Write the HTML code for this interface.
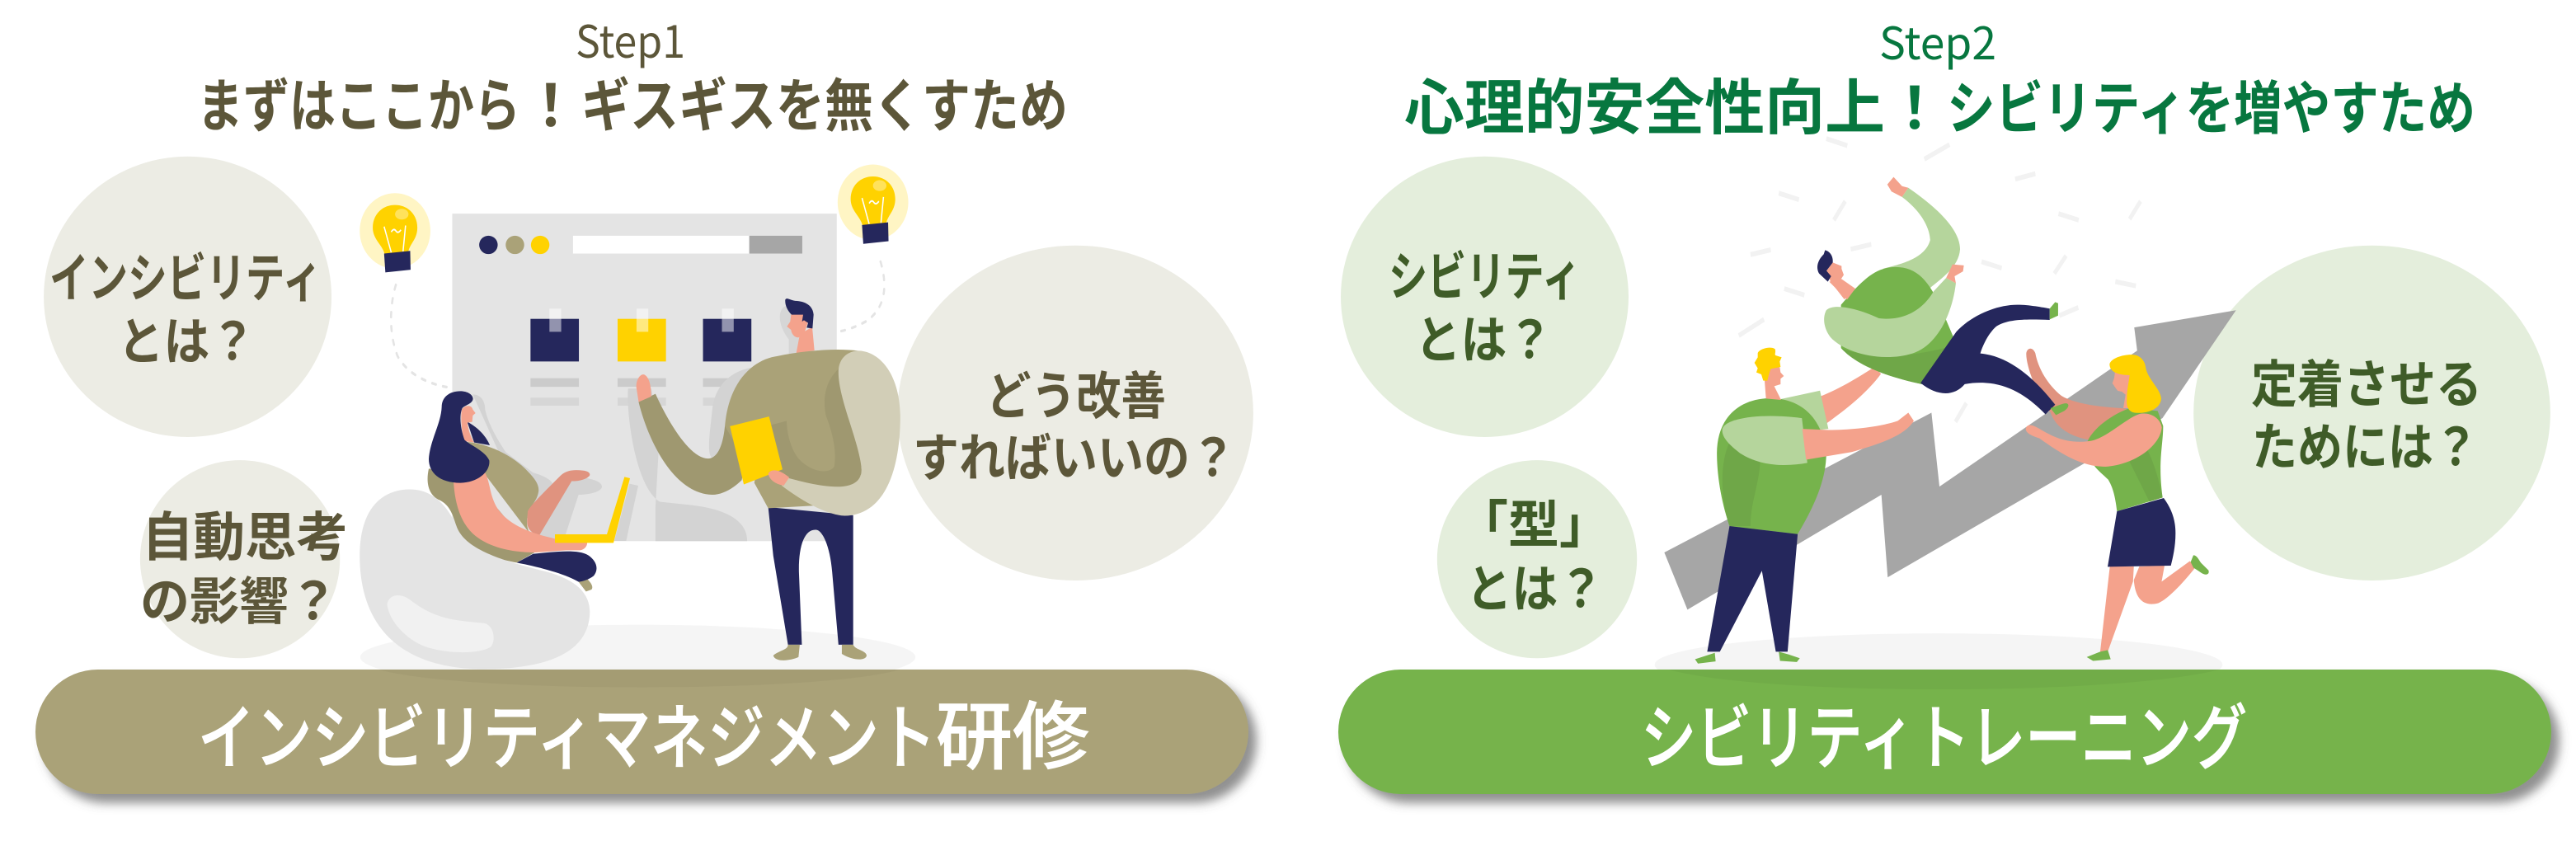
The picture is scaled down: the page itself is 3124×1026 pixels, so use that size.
<!DOCTYPE html>
<html lang="ja"><head><meta charset="utf-8"><title>Steps</title>
<style>html,body{margin:0;padding:0;background:#fff;width:3124px;height:1026px;overflow:hidden}svg{display:block}</style></head>
<body>
<svg xmlns="http://www.w3.org/2000/svg" width="3124" height="1026" viewBox="0 0 3124 1026" font-family="'Liberation Sans','Noto Sans CJK JP',sans-serif">
<defs>
<filter id="sh" x="-5%" y="-20%" width="110%" height="150%"><feDropShadow dx="10" dy="11" stdDeviation="6" flood-color="#555" flood-opacity=".65"/></filter>
<g id="bulb">
<ellipse cx="939" cy="428" rx="84" ry="70" fill="#fff5c4"/>
<path d="M939 380C970 380 992 398 992 422C992 445 972 452 970 470L915 474C912 455 886 445 886 422C886 398 908 380 939 380Z" fill="#ffd200"/>
<ellipse cx="955" cy="397" rx="16" ry="10" fill="#ffe25c"/>
<path d="M913 420L930 468M964 418L958 466M930 430Q936 422 941 428T953 426" stroke="#fff" stroke-width="3" fill="none"/>
<path d="M913 470L975 465L976 500L916 505Z" fill="#25275c"/>
</g>
</defs>
<rect width="3124" height="1026" fill="#fff"/>

<!-- LEFT illustration, zoom coords -->
<g transform="scale(.5102,.6543)">
<ellipse cx="446" cy="550" rx="342" ry="260" fill="#ecece4"/>
<ellipse cx="570.5" cy="1036.5" rx="237.5" ry="183.5" fill="#ecece4"/>
<ellipse cx="2556" cy="765.5" rx="423" ry="310.5" fill="#ecece4"/>
<ellipse cx="1516" cy="1218" rx="660" ry="60" fill="#f5f5f5"/>
<rect x="1075" y="396" width="914" height="607" fill="#e4e4e4"/>
<ellipse cx="1161" cy="454" rx="22" ry="17" fill="#25275c"/>
<ellipse cx="1224" cy="454" rx="22" ry="17" fill="#aaa278"/>
<ellipse cx="1284" cy="454" rx="22" ry="17" fill="#ffd200"/>
<rect x="1362" y="437" width="419" height="33" fill="#fff"/>
<rect x="1781" y="437" width="126" height="33" fill="#a6a6a6"/>
<rect x="1261" y="591" width="115" height="79" fill="#25275c"/><rect x="1306" y="572" width="28" height="43" fill="#fff" fill-opacity=".5"/>
<rect x="1468" y="591" width="115" height="79" fill="#ffd200"/><rect x="1513" y="572" width="28" height="43" fill="#fff" fill-opacity=".5"/>
<rect x="1671" y="591" width="115" height="79" fill="#25275c"/><rect x="1716" y="572" width="28" height="43" fill="#fff" fill-opacity=".5"/>
<rect x="1261" y="701" width="115" height="16" fill="#cbcbcb"/><rect x="1261" y="737" width="115" height="15" fill="#d6d6d6"/>
<rect x="1468" y="701" width="115" height="16" fill="#cbcbcb"/><rect x="1468" y="737" width="115" height="15" fill="#d6d6d6"/>
<rect x="1671" y="701" width="115" height="16" fill="#cbcbcb"/><rect x="1671" y="737" width="115" height="15" fill="#d6d6d6"/>
<use href="#bulb"/>
<use href="#bulb" transform="translate(1136,-53)"/>
<path d="M941 528C925 570 925 620 945 660C970 695 1020 712 1066 718" fill="none" stroke="#e4e4e4" stroke-width="5" stroke-dasharray="9 17" stroke-linecap="round"/>
<path d="M2093 485C2110 530 2105 570 2060 595C2030 608 2000 617 1958 617" fill="none" stroke="#e4e4e4" stroke-width="5" stroke-dasharray="9 17" stroke-linecap="round"/>
</g>
<!-- man's head, zoom coords -->
<g transform="translate(900,340) scale(.33333)">
<path d="M155 95C130 110 128 160 170 215L170 268L210 268L200 100Z" fill="#d6d6d6"/>
<path d="M210 195L255 170L263 255L197 265Z" fill="#f4a28c"/>
<path d="M178 125L235 120L240 150L232 175L225 195L205 208C190 208 180 195 178 180L163 168L175 150Z" fill="#f4a28c"/>
<path d="M157 70C165 60 175 75 200 75C235 78 258 95 260 125L256 175L235 172L240 155L225 145L218 150L222 125L180 125C165 110 155 90 157 70Z" fill="#25275c"/>
</g>
<g transform="scale(.5102,.6543)">
<!-- man (Q2 coords) -->
<g transform="translate(1568,0)">
<path d="M125 760C130 715 170 685 230 680L260 800L130 850C110 850 118 810 125 760Z" fill="#d3d3d3"/>
<path d="M-75 720C-80 760 -60 900 0 930L60 935C130 940 208 955 208 1003L-10 1003L-10 940L0 800L-20 720Z" fill="#d3d3d3"/>
<path d="M258 940L460 955L460 1195L425 1195L410 1060C405 1010 385 980 370 982C345 982 330 1010 331 1060L338 1195L305 1195L270 1030Z" fill="#25275c"/>
<path d="M270 1215C285 1205 305 1205 305 1195L333 1195L330 1218C310 1225 275 1228 270 1215Z" fill="#aaa278"/>
<path d="M433 1195L460 1195C465 1205 490 1205 492 1215C490 1225 460 1225 433 1212Z" fill="#aaa278"/>
<path d="M225 895L258 942L370 937L292 900L240 830Z" fill="#aaa278"/>
<path d="M155 790C150 830 135 850 115 850C75 850 25 790 -10 730L-50 745C-30 810 30 915 125 917C150 917 175 905 195 890L220 790Z" fill="#9f9870"/>
<path d="M-50 745L-55 720C-58 705 -45 690 -35 695C-25 700 -20 715 -20 735Z" fill="#f4a28c"/>
<path d="M155 790C165 700 230 665 280 660C340 650 420 645 470 650L480 880L290 900L240 900Z" fill="#aaa278"/>
<path d="M430 680C400 700 385 730 395 770C415 810 420 840 415 865C400 880 360 875 330 850C310 830 302 800 302 780L255 790L290 890C350 910 480 925 480 870C475 820 425 740 430 680Z" fill="#9f9870"/>
<path d="M470 650C520 650 570 690 572 770C572 880 530 955 440 956C400 955 340 930 290 900L300 885C350 895 480 925 480 870C475 820 425 740 425 690C425 665 445 652 470 650Z" fill="#d2ceb7"/>
<path d="M167 790L260 772L292 870L200 898Z" fill="#ffd200"/>
<path d="M258 878C265 868 285 870 308 885L295 900C280 898 262 892 258 878Z" fill="#f4a28c"/>
</g>
</g>

<!-- woman, zoom6 coords -->
<g transform="translate(500,440) scale(.33333)">
<path d="M220 115C250 115 265 140 265 170C275 220 310 280 340 325L440 400C480 410 510 430 510 440L580 415C640 415 690 430 690 450C690 470 640 480 605 480L550 648L460 648Z" fill="#d3d3d3"/>
<path d="M790 440L822 447L778 648L735 648Z" fill="#d3d3d3"/>
<path d="M60 385C50 430 55 480 100 500C140 520 150 560 165 610C190 680 290 710 380 727L445 690L200 400Z" fill="#9f9870"/>
<path d="M200 215C240 235 270 270 282 300L225 290Z" fill="#25275c"/>
<path d="M180 170C190 155 215 150 220 170L230 183L220 192L218 215L200 218C205 250 215 275 225 290L190 285C180 260 175 200 180 170Z" fill="#f4a28c"/>
<path d="M200 288C280 295 370 340 420 395C450 425 465 450 458 475C450 510 425 520 418 565C415 590 420 610 430 625L260 400Z" fill="#aaa278"/>
<path d="M420 540C430 520 470 480 540 410C560 390 590 388 620 392C650 395 650 410 640 415C630 425 600 432 580 430L462 628C430 620 415 600 418 570Z" fill="#e0937f"/>
<path d="M150 430C155 520 180 590 230 630C300 685 400 690 450 690L560 682L610 682C630 680 640 660 635 650L520 640C430 620 350 590 310 530C280 480 285 440 265 400Z" fill="#f4a28c"/>
<path d="M175 103C205 103 225 120 220 135C215 150 190 155 182 165C170 190 175 240 190 280C210 300 265 320 280 355C285 395 240 435 175 437C100 437 60 400 60 350C65 280 105 220 107 160C107 125 135 103 175 103Z" fill="#25275c"/>
<path d="M519 624L708 624L772 415L792 420L732 655L519 655Z" fill="#ffd200"/>
<path d="M605 797L635 785C650 800 660 815 652 825L632 832Z" fill="#aaa278"/>
<path d="M380 727L440 695C500 690 600 675 640 700C670 720 680 750 660 775C640 790 620 795 605 797C560 770 470 745 380 727Z" fill="#25275c"/>
</g>
<!-- chair -->
<g transform="scale(.5102,.6543)">
<path d="M975 907C1030 907 1065 940 1085 975C1105 1020 1200 1040 1300 1060C1370 1075 1402 1100 1402 1135C1400 1210 1300 1240 1150 1240C950 1240 855 1160 855 1030C855 950 900 907 975 907Z" fill="#e4e4e4"/>
<path d="M920 1120C925 1100 955 1098 980 1115C1040 1150 1090 1150 1150 1155C1175 1158 1180 1190 1165 1200C1130 1215 1040 1210 1000 1195C960 1180 925 1150 920 1120Z" fill="#f1f1f1"/>
</g>

<!-- RIGHT illustration, zoom coords (Q3) -->
<g transform="translate(1600,0) scale(.5102,.6543)">
<ellipse cx="393" cy="550" rx="342" ry="260" fill="#e4eedc"/>
<ellipse cx="517.5" cy="1036.5" rx="237.5" ry="183.5" fill="#e4eedc"/>
<ellipse cx="2502" cy="765.5" rx="424" ry="310.5" fill="#e4eedc"/>
<ellipse cx="1472" cy="1232" rx="675" ry="58" fill="#f5f5f5"/>
<g stroke="#f2f2f2" stroke-width="9" fill="none">
<path d="M1205 257L1255 270M1438 295L1498 268M1092 358L1140 370M1223 408L1250 373M1025 472L1073 463M1263 462L1312 453M1105 535L1153 547M997 622L1057 592M1512 782L1538 747"/>
<path transform="translate(1419,0)" d="M235 332L283 322M338 396L386 408M507 406L533 373M155 485L203 497M328 507L356 474M473 522L522 530M340 585L385 570"/>
</g>
<path d="M820 1024L1455 765L1474 902L1944 650L1937 607L2179 575L2004 775L1351 1070L1336 917L875 1130Z" fill="#a6a6a6"/>
<!-- flying man -->
<path d="M1400 348C1450 375 1523 420 1523 462C1520 495 1480 515 1450 535L1340 498C1380 490 1440 480 1452 445C1450 415 1420 385 1385 365Z" fill="#b5d59c"/>
<path d="M1350 342L1365 328L1385 345L1400 348L1385 365L1360 355Z" fill="#f4a28c"/>
<path d="M1190 735C1240 720 1290 695 1320 680L1335 693C1300 730 1250 760 1205 785Z" fill="#f4a28c"/>
<path d="M1215 522L1245 520L1272 535L1248 555Z" fill="#f4a28c"/>
<path d="M1240 565C1290 520 1320 495 1370 495C1420 495 1450 520 1480 575L1510 630L1432 712C1360 700 1280 680 1240 645Z" fill="#76b34c"/>
<path d="M1240 645C1300 665 1400 665 1510 640L1432 712C1360 700 1280 680 1240 645Z" fill="#6fa748"/>
<path d="M1205 575C1225 560 1290 575 1330 590C1380 595 1430 580 1460 540L1490 515L1513 525C1505 580 1470 640 1410 655C1340 672 1250 655 1215 625C1200 610 1195 590 1205 575Z" fill="#b5d59c"/>
<path d="M1490 515L1505 490L1532 492L1530 503L1510 512L1513 525Z" fill="#f4a28c"/>
<!-- blond man -->
<path d="M1095 740L1190 724L1210 795L1150 800Z" fill="#b5d59c"/>
<path d="M975 975C955 930 945 880 945 840C945 780 990 740 1070 738C1140 738 1195 770 1205 840C1205 890 1175 940 1137 990Z" fill="#76b34c"/>
<path d="M975 820L1048 855C1045 900 1025 930 1025 975L975 975C955 930 950 860 975 820Z" fill="#6fa748"/>
<path d="M958 795C965 775 1050 765 1147 775L1160 858C1110 865 1050 865 1000 840C975 825 955 810 958 795Z" fill="#b5d59c"/>
<path d="M1148 795L1210 797C1270 797 1340 790 1375 780L1400 765L1413 780C1390 810 1320 825 1265 838L1157 852Z" fill="#f4a28c"/>
<path d="M975 975L1137 990L1113 1208L1085 1208L1052 1058L952 1208L922 1208Z" fill="#25275c"/>
<path d="M893 1222L940 1210L942 1226L900 1230Z" fill="#76b34c"/>
<path d="M1092 1208L1115 1213L1142 1220L1135 1227L1095 1225Z" fill="#76b34c"/>
</g>
<!-- woman back arm, zoom2 coords -->
<g transform="translate(2440,400) scale(.33333)">
<path d="M52 85C55 65 75 60 85 85C95 140 130 200 180 240C220 265 300 280 400 285L420 290L280 400C220 390 160 360 140 300L125 285C90 230 50 130 52 85Z" fill="#e0937f"/>
</g>
<!-- Q4 coords: pants, legs -->
<g transform="translate(2324,0) scale(.5102,.6543)">
<path d="M10 710L95 615C130 585 190 565 240 565C270 565 300 570 317 572L317 593C270 592 220 590 190 605C175 615 160 635 152 655C220 660 280 700 330 750L307 768C260 730 200 700 115 712C90 735 50 735 10 710Z" fill="#25275c"/>
<path d="M317 572L330 560L337 562L337 585L317 592Z" fill="#76b34c"/>
<path d="M460 1050L517 1050L515 1078L455 1208L437 1208Z" fill="#f4a28c"/>
<path d="M517 1075C520 1110 540 1125 575 1118C600 1110 640 1075 665 1050L650 1040L583 1078L590 1048L530 1050Z" fill="#f4a28c"/>
<path d="M405 1218L437 1208L455 1205L462 1222L420 1225Z" fill="#76b34c"/>
</g>
<!-- woman, zoom2 coords -->
<g transform="translate(2440,400) scale(.33333)">
<path d="M140 285C170 275 190 265 200 268C210 272 205 285 190 295L160 310Z" fill="#76b34c"/>
<path d="M415 225L405 285L430 285Z" fill="#f4a28c"/>
<path d="M375 150L430 160L418 240L400 225L385 222C375 210 370 200 365 195L372 175Z" fill="#f4a28c"/>
<path d="M275 405C300 350 380 300 430 285L530 295L550 350C550 420 530 480 548 610L382 660C375 600 365 570 350 545C335 530 310 510 300 495Z" fill="#76b34c"/>
<path d="M428 480L490 432C520 490 535 550 548 610L500 625Z" fill="#6fa748"/>
<path d="M50 360C55 340 75 345 100 360C150 390 200 415 280 405C340 400 420 315 470 305C510 300 540 325 545 355C540 420 450 490 340 498C260 498 190 460 100 395C70 385 50 375 50 360Z" fill="#f4a28c"/>
<path d="M355 125C360 100 420 85 450 92C475 100 485 120 487 140C495 180 540 215 543 250C540 290 490 305 450 302C425 300 415 280 418 250C418 220 425 190 428 165C390 165 355 155 355 125Z" fill="#ffd200"/>
<path d="M382 660L552 612C580 650 595 690 595 740C595 790 585 830 578 858L348 862Z" fill="#25275c"/>
<path d="M650 845L660 820C675 820 680 840 690 850L715 875C720 890 705 895 690 885L660 865Z" fill="#76b34c"/>
</g>
<!-- heads, zoom5 coords -->
<g transform="translate(1900,200) scale(.33333)">
<path d="M736 740L775 735L778 755L790 768L778 778L778 798L755 805L780 855L725 850L720 785L735 765Z" fill="#f4a28c"/>
<path d="M695 685C700 668 745 658 758 670C762 680 755 690 760 693L782 700L775 715L778 735L742 742L735 765L730 785L715 785L708 762L690 755L695 740L683 720L695 700Z" fill="#ffd200"/>
<path d="M955 425L1000 415L1050 450L1020 490Z" fill="#f4a28c"/>
<path d="M968 355L1000 368L1000 378L1008 400L995 420L960 425L945 385Z" fill="#f4a28c"/>
<path d="M940 310C960 315 970 335 968 355L945 385L962 405L950 425L918 395C905 370 915 345 935 325Z" fill="#25275c"/>
</g>

<!-- pills -->
<rect x="43" y="812" width="1471" height="151" rx="75.5" fill="#aaa278" filter="url(#sh)"/>
<rect x="1623" y="812" width="1471" height="151" rx="75.5" fill="#76b34c" filter="url(#sh)"/>
<g transform="scale(.5102,.6543)" fill="#000" fill-opacity=".035">
<path d="M900 1241C1100 1285 1950 1285 2140 1241Z"/>
<path transform="translate(3136,0)" d="M830 1241C1050 1290 1900 1290 2140 1241Z"/>
</g>

<!-- text -->
<g font-weight="700" fill="#5c5639">
<text x="698" y="70" font-family="'Noto Sans CJK JP',sans-serif" font-size="54" font-weight="400" textLength="133" lengthAdjust="spacingAndGlyphs">Step1</text>
<text x="239" y="153" font-size="70" textLength="392" lengthAdjust="spacingAndGlyphs">まずはここから</text>
<text x="633" y="153" font-size="70">！</text>
<text x="705" y="153" font-size="70" textLength="590" lengthAdjust="spacingAndGlyphs">ギスギスを無くすため</text>
<text x="60" y="360" font-size="64" textLength="330" lengthAdjust="spacingAndGlyphs">インシビリティ</text>
<text x="143" y="436" font-size="62" textLength="167" lengthAdjust="spacingAndGlyphs">とは？</text>
<text x="172" y="674" font-size="64" textLength="250" lengthAdjust="spacingAndGlyphs">自動思考</text>
<text x="170" y="751" font-size="62" textLength="240" lengthAdjust="spacingAndGlyphs">の影響？</text>
<text x="1196" y="502" font-size="62" textLength="218" lengthAdjust="spacingAndGlyphs">どう改善</text>
<text x="1107" y="577" font-size="62" textLength="392" lengthAdjust="spacingAndGlyphs">すればいいの？</text>
</g>
<g font-weight="700" fill="#3f5c28">
<text x="1684" y="358" font-size="64" textLength="233" lengthAdjust="spacingAndGlyphs">シビリティ</text>
<text x="1716" y="434" font-size="62" textLength="167" lengthAdjust="spacingAndGlyphs">とは？</text>
<text x="1860" y="658" font-size="62" text-anchor="middle">「型」</text>
<text x="1778" y="736" font-size="62" textLength="167" lengthAdjust="spacingAndGlyphs">とは？</text>
<text x="2730" y="488" font-size="62" textLength="280" lengthAdjust="spacingAndGlyphs">定着させる</text>
<text x="2731" y="564" font-size="62" textLength="275" lengthAdjust="spacingAndGlyphs">ためには？</text>
</g>
<g font-weight="700" fill="#07773f">
<text x="2279" y="72" font-family="'Noto Sans CJK JP',sans-serif" font-size="54" font-weight="400" textLength="142" lengthAdjust="spacingAndGlyphs">Step2</text>
<text x="1703" y="156" font-size="73" textLength="583" lengthAdjust="spacingAndGlyphs">心理的安全性向上</text>
<text x="2287" y="156" font-size="70">！</text>
<text x="2361" y="156" font-size="70" textLength="641" lengthAdjust="spacingAndGlyphs">シビリティを増やすため</text>
</g>
<g fill="#fff" font-weight="500" stroke="#fff" stroke-width="1">
<text x="240" y="925" font-size="86" textLength="895" lengthAdjust="spacingAndGlyphs">インシビリティマネジメント</text>
<text x="1135" y="925" font-size="90" textLength="186" lengthAdjust="spacingAndGlyphs">研修</text>
<text x="1990" y="925" font-size="86" textLength="735" lengthAdjust="spacingAndGlyphs">シビリティトレーニング</text>
</g>
</svg>
</body></html>
